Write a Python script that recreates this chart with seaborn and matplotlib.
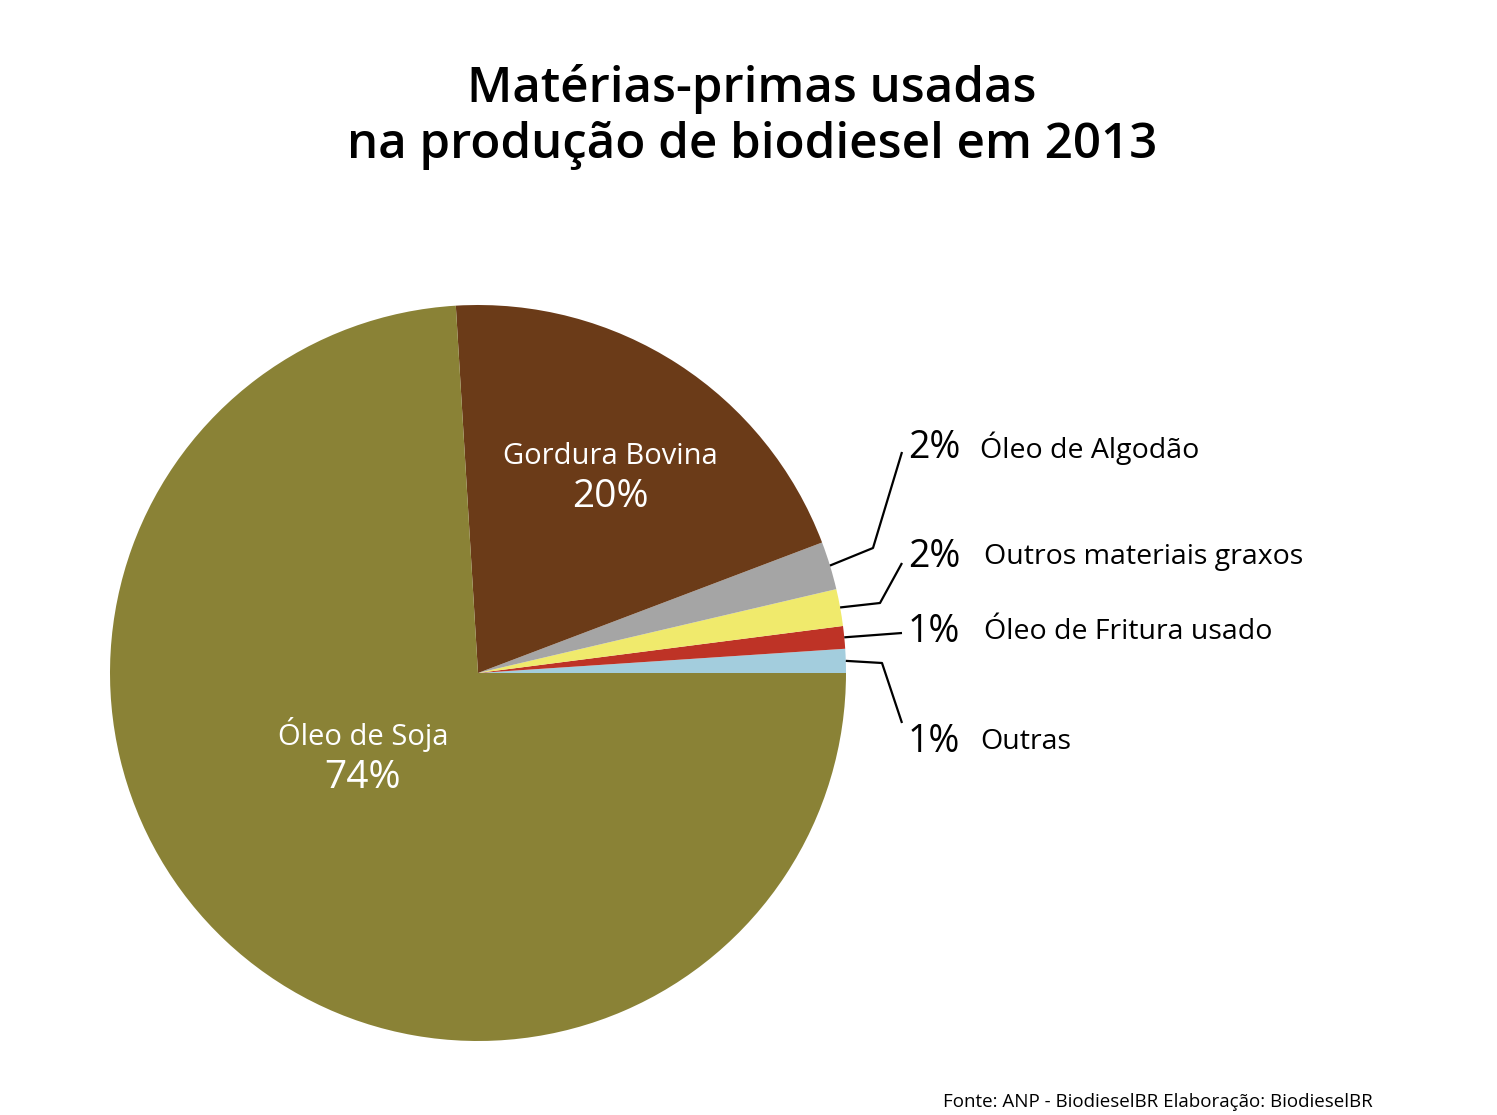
import numpy as np
import matplotlib
matplotlib.use('Agg')
import matplotlib.pyplot as plt
import seaborn as sns

# ------------------------------------------------------------
# Data (shares in %, counter-clockwise from 3 o'clock)
# ------------------------------------------------------------
categories = ['Outras', 'Óleo de Fritura usado', 'Outros materiais graxos',
              'Óleo de Algodão', 'Gordura Bovina', 'Óleo de Soja']
shares = [1.05, 0.99, 1.62, 2.11, 20.19, 74.04]
colors = ['#a3cddd', '#be3326', '#f0ea6c', '#a5a5a5', '#6b3b18', '#8a8236']

sns.set_theme(style='white')
plt.rcParams['font.family'] = ['Open Sans', 'DejaVu Sans']

W, H = 1497, 1115
fig = plt.figure(figsize=(W / 100, H / 100), dpi=100)
fig.patch.set_facecolor('white')
ax = fig.add_axes([0, 0, 1, 1])

cx, cy, R = 478, H - 673, 368
wedges, _ = ax.pie(shares, colors=colors, startangle=0, counterclock=True,
                   center=(cx, cy), radius=R, frame=True,
                   wedgeprops=dict(linewidth=0))
ax.set_xlim(0, W)
ax.set_ylim(0, H)
ax.set_aspect('equal')
ax.axis('off')

pct = [int(round(s)) for s in shares]

# inner labels (white)
inner = {4: (610, 456, 497), 5: (363, 734, 778)}
for i, (x, y1, y2) in inner.items():
    ax.text(x, H - y1, categories[i], color='white', fontsize=21,
            ha='center', va='center')
    ax.text(x, H - y2, f'{pct[i]}%', color='white', fontsize=28,
            ha='center', va='center')

# outside labels with leader lines
outside = {
    3: [(873, 548), (902, 452)],
    2: [(880, 603), (902, 563)],
    1: [(902, 633)],
    0: [(882, 663), (902, 723)],
}
label_y = {3: 448, 2: 557, 1: 632, 0: 742}
label_x = {3: 980, 2: 984, 1: 984, 0: 980}
for i, pts in outside.items():
    w = wedges[i]
    mid = np.deg2rad((w.theta1 + w.theta2) / 2)
    xs = [cx + R * np.cos(mid)] + [p[0] for p in pts]
    ys = [cy + R * np.sin(mid)] + [H - p[1] for p in pts]
    ax.plot(xs, ys, color='black', linewidth=1.6, solid_capstyle='butt')
    ax.text(908, H - label_y[i], f'{pct[i]}%', fontsize=27,
            ha='left', va='center', color='black')
    ax.text(label_x[i], H - label_y[i], categories[i], fontsize=20.5,
            ha='left', va='center', color='black')

# title
fig.text(752 / W, 1 - 117 / H,
         'Matérias-primas usadas\nna produção de biodiesel em 2013',
         ha='center', va='center', fontsize=35.5, fontweight='semibold',
         linespacing=1.17, color='black')

# source
fig.text(1373 / W, 1 - 1102 / H,
         'Fonte: ANP - BiodieselBR Elaboração: BiodieselBR',
         ha='right', va='center', fontsize=13.5, color='black')

plt.savefig('out.png', dpi=100, facecolor='white')
